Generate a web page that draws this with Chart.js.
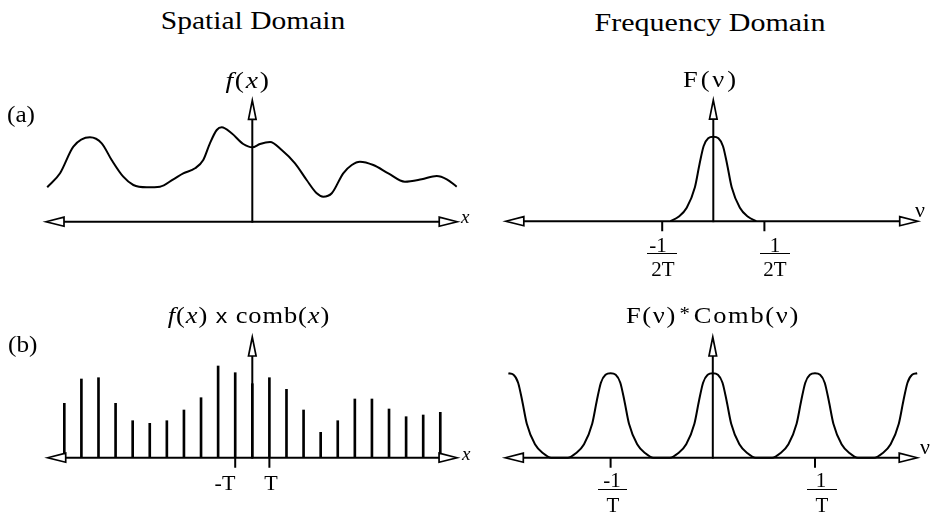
<!DOCTYPE html>
<html><head><meta charset="utf-8">
<script src="https://cdn.jsdelivr.net/npm/chart.js@4"></script>
<style>
html,body{margin:0;padding:0;background:#fff;}
body{width:931px;height:516px;position:relative;overflow:hidden;}
canvas{position:absolute;}
.t{position:absolute;font-family:'Liberation Serif','Times New Roman',serif;line-height:1;white-space:nowrap;color:#000;z-index:2;}
.c{transform:translateX(-50%) scaleX(1.15);}
.l{transform-origin:left center;transform:scaleX(1.05);}
.bar{position:absolute;height:0;border-top:1.6px solid #000;z-index:2;}
.sx{font-family:'Liberation Sans',Arial,sans-serif;}
</style></head>
<body>
<canvas id="cA" width="450" height="145" style="left:30px;top:90px"></canvas>
<canvas id="cB" width="450" height="150" style="left:30px;top:325px"></canvas>
<canvas id="cC" width="441" height="150" style="left:490px;top:90px"></canvas>
<canvas id="cD" width="441" height="150" style="left:490px;top:325px"></canvas>

<div class="t c" style="font-size:25px;left:252.5px;top:8px;transform:translateX(-50%) scaleX(1.18)">Spatial Domain</div>
<div class="t c" style="font-size:25px;left:710px;top:9.5px;transform:translateX(-50%) scaleX(1.2)">Frequency Domain</div>
<div class="t l" style="font-size:24px;left:7px;top:102px">(a)</div>
<div class="t l" style="font-size:24px;left:8px;top:332px">(b)</div>

<div class="t c" style="font-size:24px;left:248px;top:68px;letter-spacing:1.5px"><i>f</i>(<i>x</i>)</div>
<div class="t c" style="font-size:23px;left:710.5px;top:68px;letter-spacing:2.5px">F(ν)</div>
<div class="t c" style="font-size:23px;left:249px;top:304px;letter-spacing:0.8px"><i>f</i>(<i>x</i>) <span class="sx" style="font-size:20px">x</span> comb(<i>x</i>)</div>
<div class="t c" style="font-size:23px;left:712.5px;top:304px;letter-spacing:1.5px">F(ν)<span style="font-size:18px;position:relative;top:-3px;margin:0 2px">*</span>Comb(ν)</div>

<div class="t" style="font-size:19px;left:461px;top:207px"><i>x</i></div>
<div class="t" style="font-size:19px;left:462px;top:444px"><i>x</i></div>
<div class="t" style="font-size:22px;left:915px;top:199px">ν</div>
<div class="t" style="font-size:22px;left:920px;top:436px">ν</div>

<div class="t c" style="font-size:21px;left:225px;top:472.5px;transform:translateX(-50%) scaleX(1.05)">-T</div>
<div class="t c" style="font-size:21px;left:271px;top:472.5px;transform:translateX(-50%) scaleX(1.05)">T</div>

<div class="t c" style="font-size:20px;left:657.5px;top:234.5px;transform:translateX(-50%) scaleX(1.05)">-1</div>
<div class="bar" style="left:646.7px;width:30px;top:252.5px"></div>
<div class="t c" style="font-size:20px;left:662.5px;top:258.5px;transform:translateX(-50%) scaleX(1.05)">2T</div>
<div class="t c" style="font-size:20px;left:775px;top:234.5px;transform:translateX(-50%) scaleX(1.05)">1</div>
<div class="bar" style="left:760px;width:30px;top:252.5px"></div>
<div class="t c" style="font-size:20px;left:775px;top:258.5px;transform:translateX(-50%) scaleX(1.05)">2T</div>

<div class="t c" style="font-size:20px;left:612px;top:469.5px;transform:translateX(-50%) scaleX(1.05)">-1</div>
<div class="bar" style="left:598px;width:29px;top:488.5px"></div>
<div class="t c" style="font-size:20px;left:612.8px;top:494.5px;transform:translateX(-50%) scaleX(1.05)">T</div>
<div class="t c" style="font-size:20px;left:821px;top:469.5px;transform:translateX(-50%) scaleX(1.05)">1</div>
<div class="bar" style="left:806.7px;width:30px;top:488.5px"></div>
<div class="t c" style="font-size:20px;left:821.5px;top:494.5px;transform:translateX(-50%) scaleX(1.05)">T</div>

<script>
// ---------- DATA ----------
// (a) spatial domain: f(x), x in units of the sampling interval T
const fX = [-12.0,-11.25,-10.47,-9.5,-8.81,-8.23,-7.55,-6.96,-6.18,-5.4,
            -4.62,-4.04,-3.35,-2.87,-2.48,-2.08,-1.79,-1.21,-0.53,0,
            0.45,1.04,1.72,2.5,3.18,3.77,4.15,4.65,5.32,5.82,
            6.3,7.08,7.96,8.93,9.91,10.79,11.38,11.96];
const fY = [3.44,4.84,7.5,8.44,7.84,6.17,4.5,3.67,3.44,3.5,
            4.24,4.84,5.34,6.17,7.84,9.17,9.44,8.84,7.77,7.44,
            7.77,7.97,7.17,5.84,4.17,2.84,2.5,2.84,4.84,5.67,
            6.0,5.67,4.84,4.0,4.24,4.57,4.24,3.5];

// (b) spatial domain: samples f(x) x comb(x) at x = kT
const sampleK = [-11,-10,-9,-8,-7,-6,-5,-4,-3,-2,-1,0,1,2,3,4,5,6,7,8,9,10,11];
const sampleF = [5.44,7.87,8.0,5.44,3.7,3.44,3.7,4.77,6.0,9.17,8.5,7.4,8.0,6.84,4.77,2.54,3.7,5.87,5.87,4.87,4.1,4.27,4.54];

// (a) frequency domain: F(nu), nu in units of 1/T
const specNu = [-0.42,-0.34,-0.26,-0.18,-0.135,-0.095,-0.05,0,0.05,0.095,0.135,0.18,0.26,0.34,0.42];
const specF  = [0,0.45,1.35,3.4,5.7,7.5,8.3,8.45,8.3,7.5,5.7,3.4,1.35,0.45,0];

// (b) frequency domain: F(nu) * Comb(nu), replicas at multiples of 1/T
const combNu = [-2,-1.95,-1.905,-1.865,-1.82,-1.74,-1.66,-1.58,
  -1.42,-1.34,-1.26,-1.18,-1.135,-1.095,-1.05,-1,-0.95,-0.905,-0.865,-0.82,-0.74,-0.66,-0.58,
  -0.42,-0.34,-0.26,-0.18,-0.135,-0.095,-0.05,0,0.05,0.095,0.135,0.18,0.26,0.34,0.42,
  0.58,0.66,0.74,0.82,0.865,0.905,0.95,1,1.05,1.095,1.135,1.18,1.26,1.34,1.42,
  1.58,1.66,1.74,1.82,1.865,1.905,1.95,2];
const combF = [8.45,8.3,7.5,5.7,3.4,1.35,0.45,0,
  0,0.45,1.35,3.4,5.7,7.5,8.3,8.45,8.3,7.5,5.7,3.4,1.35,0.45,0,
  0,0.45,1.35,3.4,5.7,7.5,8.3,8.45,8.3,7.5,5.7,3.4,1.35,0.45,0,
  0,0.45,1.35,3.4,5.7,7.5,8.3,8.45,8.3,7.5,5.7,3.4,1.35,0.45,0,
  0,0.45,1.35,3.4,5.7,7.5,8.3,8.45];

// tick positions
const ticksB = [-1, 1];        // -T, T
const ticksC = [-0.5, 0.5];    // -1/2T, 1/2T
const ticksD = [-1, 1];        // -1/T, 1/T

// axis extents (data units)
const axisA = {xFrom:-12.13, xTo:12.05, yTo:12.24};
const axisB = {xFrom:-12.03, xTo:12.04, yTo:12.17};
const axisC = {xFrom:-2.04, xTo:2.01, yTo:12.2};
const axisD = {xFrom:-2.04, xTo:2.01, yTo:12.17};

// ---------- DRAWING ----------
function xr(left, width, originPx, ppu){ const min=(left-originPx)/ppu; return {min, max:min+width/ppu}; }
function yr(top, height, axisPx, ppu){ return {min:(axisPx-(top+height))/ppu, max:(axisPx-top)/ppu}; }

const axesPlugin = {
  id:'sketchAxes',
  afterDatasetsDraw(chart, args, o){
    const ctx=chart.ctx, xs=chart.scales.x, ys=chart.scales.y;
    const y0=ys.getPixelForValue(0), x0=xs.getPixelForValue(0);
    const xl=xs.getPixelForValue(o.xFrom), xrr=xs.getPixelForValue(o.xTo), yt=ys.getPixelForValue(o.yTo);
    const HL=19, HW=4.5, VL=20, VW=3.8;
    ctx.save();
    ctx.strokeStyle='#000'; ctx.lineWidth=2; ctx.lineCap='butt';
    ctx.beginPath(); ctx.moveTo(xl+HL,y0); ctx.lineTo(xrr-HL,y0); ctx.stroke();
    ctx.beginPath(); ctx.moveTo(x0,y0+1); ctx.lineTo(x0,yt+VL); ctx.stroke();
    ctx.beginPath();
    (o.ticks||[]).forEach(t=>{const p=xs.getPixelForValue(t); ctx.moveTo(p,y0); ctx.lineTo(p,y0+10);});
    ctx.stroke();
    ctx.lineWidth=1.7; ctx.fillStyle='#fff'; ctx.lineJoin='miter';
    const tri=(a,b,c,d,e,f)=>{ctx.beginPath();ctx.moveTo(a,b);ctx.lineTo(c,d);ctx.lineTo(e,f);ctx.closePath();ctx.fill();ctx.stroke();};
    tri(xl+1,y0, xl+HL,y0-HW, xl+HL,y0+HW);
    tri(xrr-1,y0, xrr-HL,y0-HW, xrr-HL,y0+HW);
    tri(x0,yt+1, x0-VW,yt+VL, x0+VW,yt+VL);
    ctx.restore();
  }
};

function baseOpts(xRange, yRange, axis, ticks){
  return {
    responsive:false, animation:false, events:[], devicePixelRatio:1,
    layout:{padding:0},
    plugins:{legend:{display:false}, tooltip:{enabled:false}, title:{display:false},
             sketchAxes:Object.assign({ticks:ticks}, axis)},
    scales:{
      x:{type:'linear', display:false, offset:false, grid:{offset:false}, min:xRange.min, max:xRange.max},
      y:{type:'linear', display:false, min:yRange.min, max:yRange.max}
    }
  };
}
function lineDs(xs, ys){
  return {data:xs.map((x,i)=>({x:x,y:ys[i]})), borderColor:'#000', borderWidth:2, pointRadius:0,
          cubicInterpolationMode:'monotone', fill:false, clip:false};
}

// panel geometry: canvas rect, origin pixel, px per unit
new Chart(document.getElementById('cA'), {
  type:'line',
  data:{datasets:[lineDs(fX,fY)]},
  options:baseOpts(xr(30,450,252.3,17.09), yr(90,145,221.7,10), axisA, []),
  plugins:[axesPlugin]
});
new Chart(document.getElementById('cB'), {
  type:'bar',
  data:{datasets:[{data:sampleK.map((k,i)=>({x:k,y:sampleF[i]})), backgroundColor:'#000', borderWidth:0, barThickness:2}]},
  options:baseOpts(xr(30,450,252.3,17.09), yr(325,150,457.7,10), axisB, ticksB),
  plugins:[axesPlugin]
});
new Chart(document.getElementById('cC'), {
  type:'line',
  data:{datasets:[lineDs(specNu,specF)]},
  options:baseOpts(xr(490,441,713.3,102.2), yr(90,150,221.2,10), axisC, ticksC),
  plugins:[axesPlugin]
});
new Chart(document.getElementById('cD'), {
  type:'line',
  data:{datasets:[lineDs(combNu,combF)]},
  options:baseOpts(xr(490,441,712.8,102.2), yr(325,150,457.7,10), axisD, ticksD),
  plugins:[axesPlugin]
});
</script>
</body></html>
